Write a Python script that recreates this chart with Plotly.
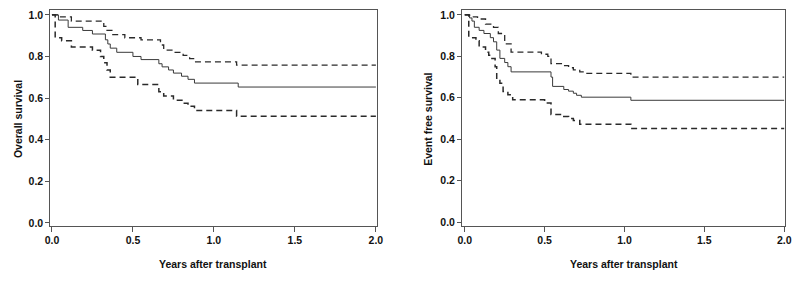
import plotly.graph_objects as go

# ---- Overall survival (left panel) ----
os_time = [0, 0.04, 0.10, 0.19, 0.25, 0.33, 0.345, 0.36, 0.40, 0.50, 0.55, 0.66, 0.68, 0.72, 0.75, 0.80, 0.84, 0.88, 1.15, 2.0]
os_surv = [1.0, 0.975, 0.94, 0.925, 0.908, 0.88, 0.86, 0.84, 0.82, 0.80, 0.785, 0.765, 0.75, 0.735, 0.72, 0.705, 0.69, 0.672, 0.653, 0.653]
os_up_time = [0, 0.04, 0.12, 0.32, 0.34, 0.37, 0.45, 0.55, 0.67, 0.69, 0.75, 0.81, 0.85, 0.88, 1.14, 2.0]
os_up_surv = [1.0, 0.99, 0.97, 0.945, 0.925, 0.905, 0.89, 0.88, 0.855, 0.83, 0.82, 0.805, 0.79, 0.774, 0.758, 0.758]
os_lo_time = [0, 0.02, 0.06, 0.12, 0.25, 0.30, 0.32, 0.34, 0.36, 0.53, 0.66, 0.69, 0.75, 0.81, 0.84, 0.88, 1.14, 2.0]
os_lo_surv = [1.0, 0.89, 0.875, 0.845, 0.83, 0.80, 0.77, 0.735, 0.70, 0.665, 0.63, 0.61, 0.59, 0.575, 0.56, 0.54, 0.513, 0.513]

# ---- Event free survival (right panel) ----
efs_time = [0, 0.03, 0.045, 0.06, 0.09, 0.12, 0.16, 0.18, 0.20, 0.22, 0.25, 0.27, 0.29, 0.54, 0.55, 0.62, 0.65, 0.68, 0.70, 0.73, 1.04, 2.0]
efs_surv = [1.0, 0.985, 0.97, 0.94, 0.925, 0.91, 0.89, 0.87, 0.83, 0.79, 0.77, 0.75, 0.725, 0.70, 0.655, 0.64, 0.632, 0.622, 0.612, 0.603, 0.588, 0.588]
efs_up_time = [0, 0.03, 0.08, 0.13, 0.18, 0.21, 0.25, 0.29, 0.48, 0.52, 0.54, 0.62, 0.65, 0.68, 0.72, 0.75, 1.04, 2.0]
efs_up_surv = [1.0, 0.99, 0.98, 0.955, 0.94, 0.91, 0.86, 0.82, 0.81, 0.80, 0.765, 0.755, 0.745, 0.735, 0.725, 0.718, 0.70, 0.70]
efs_lo_time = [0, 0.025, 0.07, 0.09, 0.13, 0.15, 0.17, 0.19, 0.20, 0.22, 0.24, 0.27, 0.30, 0.50, 0.54, 0.62, 0.65, 0.68, 0.72, 1.04, 2.0]
efs_lo_surv = [1.0, 0.89, 0.875, 0.845, 0.82, 0.805, 0.79, 0.75, 0.69, 0.67, 0.63, 0.615, 0.59, 0.575, 0.52, 0.51, 0.50, 0.49, 0.473, 0.452, 0.452]

x_ticks = [0.0, 0.5, 1.0, 1.5, 2.0]
x_ticktext = ["0.0", "0.5", "1.0", "1.5", "2.0"]
y_ticks = [0.0, 0.2, 0.4, 0.6, 0.8, 1.0]
y_ticktext = ["0.0", "0.2", "0.4", "0.6", "0.8", "1.0"]
x_title = "Years after transplant"
y_titles = ["Overall survival", "Event free survival"]

LINE = "#2a2a2a"
FONT = dict(family="Liberation Sans, Arial, sans-serif", size=10.5, color="#111", weight="bold")

fig = go.Figure()

def add_curves(t, s, tu, su, tl, sl, xa, ya):
    fig.add_trace(go.Scatter(x=t, y=s, mode="lines", line=dict(color="#3a3a3a", width=1, shape="hv"),
                             xaxis=xa, yaxis=ya, showlegend=False, hoverinfo="skip"))
    fig.add_trace(go.Scatter(x=tu, y=su, mode="lines", line=dict(color=LINE, width=1.3, shape="hv", dash="6px,4px"),
                             xaxis=xa, yaxis=ya, showlegend=False, hoverinfo="skip"))
    fig.add_trace(go.Scatter(x=tl, y=sl, mode="lines", line=dict(color=LINE, width=1.5, shape="hv", dash="6px,4px"),
                             xaxis=xa, yaxis=ya, showlegend=False, hoverinfo="skip"))

add_curves(os_time, os_surv, os_up_time, os_up_surv, os_lo_time, os_lo_surv, "x", "y")
add_curves(efs_time, efs_surv, efs_up_time, efs_up_surv, efs_lo_time, efs_lo_surv, "x2", "y2")

W, H = 800, 281

def xaxis(dom, rng):
    return dict(domain=dom, range=rng, tickvals=x_ticks, ticktext=x_ticktext, ticks="outside",
                ticklen=5, tickwidth=1, tickcolor="#555", showline=True, linecolor="#555", linewidth=1,
                mirror=True, showgrid=False, zeroline=False, tickfont=FONT, fixedrange=True)

def yaxis(dom, rng, anchor):
    return dict(domain=dom, range=rng, tickvals=y_ticks, ticktext=y_ticktext, ticks="outside",
                ticklen=4, tickwidth=1, tickcolor="#555", showline=True, linecolor="#555", linewidth=1,
                mirror=True, showgrid=False, zeroline=False, tickfont=FONT, anchor=anchor, fixedrange=True)

ydom = [1 - 228 / H, 1 - 9 / H]
fig.update_layout(
    width=W, height=H,
    margin=dict(l=0, r=0, t=0, b=0),
    paper_bgcolor="white", plot_bgcolor="white",
    font=FONT,
    xaxis=xaxis([45 / W, 377 / W], [-0.01, 2.009]),
    yaxis=yaxis(ydom, [-0.014, 1.024], "x"),
    xaxis2=xaxis([463 / W, 791 / W], [-0.017, 2.006]),
    yaxis2=yaxis(ydom, [-0.017, 1.024], "x2"),
)
fig.layout.xaxis2.anchor = "y2"

annotations = [
    dict(text=x_title, x=210 / W, y=1 - 267 / H, xref="paper", yref="paper", showarrow=False, font=FONT,
         xanchor="center", yanchor="middle"),
    dict(text=x_title, x=627 / W, y=1 - 267 / H, xref="paper", yref="paper", showarrow=False, font=FONT,
         xanchor="center", yanchor="middle"),
    dict(text=y_titles[0], x=12 / W, y=1 - 120 / H, xref="paper", yref="paper", showarrow=False, font=FONT,
         textangle=-90, xanchor="center", yanchor="middle"),
    dict(text=y_titles[1], x=429 / W, y=1 - 120 / H, xref="paper", yref="paper", showarrow=False, font=FONT,
         textangle=-90, xanchor="center", yanchor="middle"),
]
fig.update_layout(annotations=annotations)

fig.write_html("out.html", config={"displayModeBar": False},
               post_script="document.body.style.margin='0';")
